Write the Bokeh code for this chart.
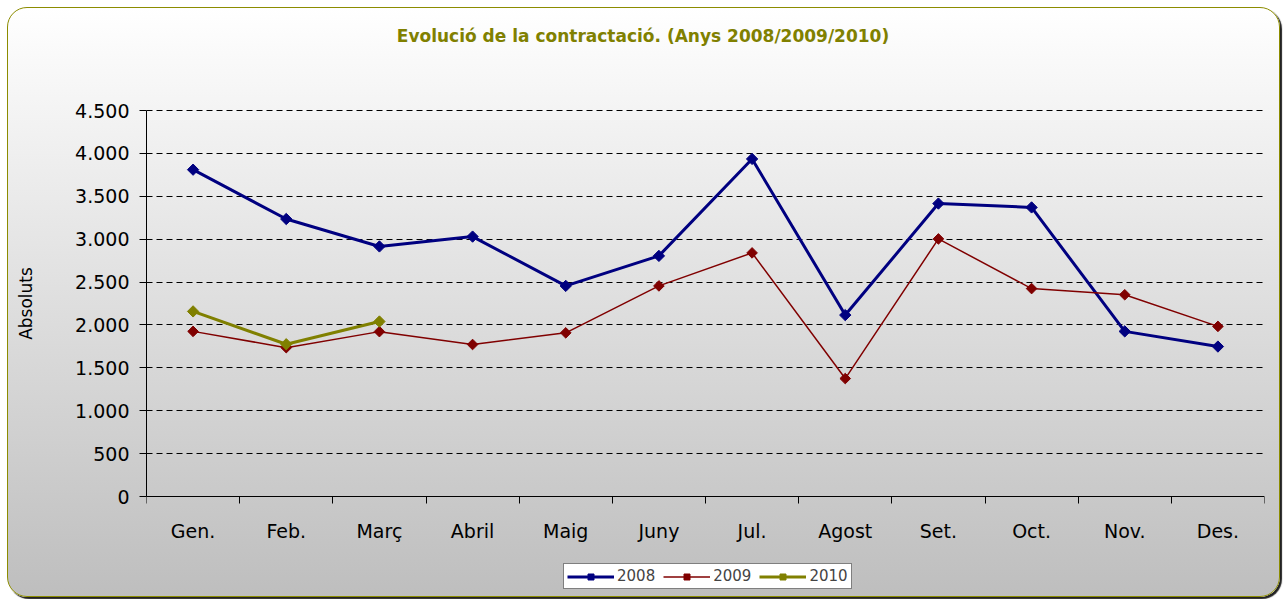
import math
from bokeh.plotting import figure
from bokeh.models import FixedTicker, Legend, LegendItem, Label
from bokeh.embed import file_html
from bokeh.resources import INLINE

months = ["Gen.", "Feb.", "Març", "Abril", "Maig", "Juny", "Jul.", "Agost", "Set.", "Oct.", "Nov.", "Des."]
y_ticks = [0, 500, 1000, 1500, 2000, 2500, 3000, 3500, 4000, 4500]
y_tick_labels = ["0", "500", "1.000", "1.500", "2.000", "2.500", "3.000", "3.500", "4.000", "4.500"]

v2008 = [3810, 3235, 2915, 3030, 2455, 2805, 3935, 2115, 3415, 3370, 1925, 1748]
v2009 = [1925, 1735, 1922, 1772, 1908, 2455, 2840, 1375, 3003, 2424, 2352, 1983]
v2010 = [2158, 1775, 2040]

W, H = 1273, 590
# frame spans the full canvas height; value axis 0..4500 occupies canvas y 102..488
px_per_unit = (488 - 102) / 4500
y_lo = -(H - 488) / px_per_unit
y_hi = 4500 + 102 / px_per_unit

p = figure(width=W, height=H, output_backend="svg", toolbar_location=None,
           x_range=(0.5, 12.5), y_range=(y_lo, y_hi),
           min_border_left=138, min_border_right=17, min_border_top=0, min_border_bottom=0,
           border_fill_color=None, background_fill_color=None, outline_line_color=None,
           styles={"background": "linear-gradient(to bottom, #ffffff 0%, #bebebe 100%)",
                   "border": "1px solid #8c8c00", "border-radius": "20px",
                   "box-shadow": "2px 2px 1px #222222",
                   "margin-left": "7px", "margin-top": "7px"})

xs = list(range(1, 13))
ang = math.pi / 4
r1l = p.line(xs, v2008, line_color="#000080", line_width=3)
r1m = p.scatter(xs, v2008, marker="square", angle=ang, size=8, fill_color="#000080", line_color="#000080")
r2l = p.line(xs, v2009, line_color="#800000", line_width=1.5)
r2m = p.scatter(xs, v2009, marker="square", angle=ang, size=7.5, fill_color="#800000", line_color="#800000")
r3l = p.line(xs[:len(v2010)], v2010, line_color="#808000", line_width=3)
r3m = p.scatter(xs[:len(v2010)], v2010, marker="square", angle=ang, size=8, fill_color="#808000", line_color="#808000")

# x axis sits at value 0 inside the frame
p.xaxis.fixed_location = 0
p.xaxis.ticker = FixedTicker(ticks=xs, minor_ticks=[x + 0.5 for x in range(0, 13)])
p.xaxis.major_label_overrides = {i + 1: m for i, m in enumerate(months)}
p.xaxis.major_tick_out = 0
p.xaxis.major_tick_in = 0
p.xaxis.minor_tick_out = 7
p.xaxis.minor_tick_in = 0
p.xaxis.minor_tick_line_color = "black"
p.xaxis.major_label_standoff = 16
p.xaxis.major_label_text_font = "DejaVu Sans"
p.xaxis.major_label_text_font_size = "19px"
p.xaxis.major_label_text_color = "black"
p.xaxis.axis_line_color = "black"

p.yaxis.bounds = (0, 4500)
p.yaxis.ticker = FixedTicker(ticks=y_ticks, minor_ticks=[])
p.yaxis.major_label_overrides = {t: l for t, l in zip(y_ticks, y_tick_labels)}
p.yaxis.major_tick_out = 7
p.yaxis.major_tick_in = 0
p.yaxis.major_tick_line_color = "black"
p.yaxis.major_label_standoff = 10
p.yaxis.major_label_text_font = "DejaVu Sans"
p.yaxis.major_label_text_font_size = "19px"
p.yaxis.major_label_text_color = "black"
p.yaxis.axis_line_color = "black"
p.yaxis.axis_label = "Absoluts"
p.yaxis.axis_label_text_font = "DejaVu Sans"
p.yaxis.axis_label_text_font_style = "normal"
p.yaxis.axis_label_text_font_size = "17px"
p.yaxis.axis_label_text_color = "black"
p.yaxis.axis_label_standoff = 36

p.xgrid.grid_line_color = None
p.ygrid.grid_line_color = "black"
p.ygrid.grid_line_dash = "6 4"
p.ygrid.grid_line_width = 1

title = Label(x=496.5, y=H - 27, x_units="screen", y_units="screen",
              text="Evolució de la contractació. (Anys 2008/2009/2010)",
              text_align="center", text_baseline="middle",
              text_font="DejaVu Sans", text_font_style="bold", text_font_size="17px",
              text_color="#808000")
p.add_layout(title)

legend = Legend(items=[LegendItem(label="2008", renderers=[r1l, r1m]),
                       LegendItem(label="2009", renderers=[r2l, r2m]),
                       LegendItem(label="2010", renderers=[r3l, r3m])],
                orientation="horizontal", location=(417, 9),
                glyph_width=47, glyph_height=15, label_standoff=3, spacing=8,
                padding=3, margin=0, label_text_font="DejaVu Sans", label_text_font_size="15px",
                label_height=15,
                border_line_color="black", border_line_width=1,
                background_fill_color="white", background_fill_alpha=1)
p.add_layout(legend, "center")

open("out.html", "w").write(file_html(p, INLINE))
